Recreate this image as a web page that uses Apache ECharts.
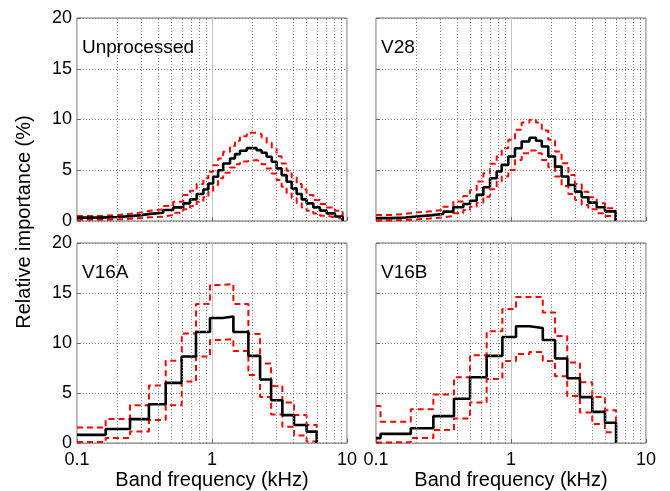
<!DOCTYPE html>
<html>
<head>
<meta charset="utf-8">
<script src="https://cdn.jsdelivr.net/npm/echarts@6/dist/echarts.min.js"></script>
<style>
html, body { margin: 0; padding: 0; background: #fff; }
#chart { width: 670px; height: 491px; }
</style>
</head>
<body>
<div id="chart"></div>
<script>
// band edges (kHz) and band importance (%)
var unprocEdges = [0.1, 0.15, 0.2, 0.25, 0.3, 0.347, 0.435, 0.516, 0.612, 0.687, 0.77, 0.863, 0.94, 1.02,
    1.11, 1.21, 1.36, 1.48, 1.61, 1.81, 2.14, 2.33, 2.54, 2.77, 3.01, 3.28, 3.57, 3.89, 4.24, 4.62, 5.02,
    5.63, 6.31, 7.07, 8.15, 9.29];
var unprocMean = [0.33, 0.4, 0.48, 0.58, 0.7, 0.82, 1.08, 1.34, 1.74, 2.13, 2.66, 3.1, 3.7, 4.36, 5.0,
    5.67, 6.16, 6.59, 6.92, 7.18, 6.98, 6.72, 6.33, 5.84, 5.18, 4.52, 3.87, 3.21, 2.66, 2.13, 1.74, 1.34,
    1.02, 0.75, 0.45];
var unprocUpper = [0.5, 0.6, 0.72, 0.85, 1.0, 1.15, 1.48, 1.9, 2.56, 2.98, 3.64, 4.2, 4.85, 5.5, 6.16,
    6.82, 7.38, 7.9, 8.36, 8.69, 8.56, 8.23, 7.7, 7.15, 6.39, 5.67, 4.95, 4.3, 3.64, 3.11, 2.56, 2.07,
    1.67, 1.34, 1.02];
var unprocLower = [0.12, 0.16, 0.22, 0.3, 0.36, 0.43, 0.59, 0.82, 1.15, 1.48, 1.9, 2.33, 2.89, 3.54, 4.2,
    4.75, 5.28, 5.6, 5.87, 6.0, 5.87, 5.6, 5.18, 4.69, 4.03, 3.38, 2.79, 2.23, 1.74, 1.34, 1.02, 0.75,
    0.52, 0.36, 0.23];

var v28Edges = [0.1, 0.13, 0.165, 0.2, 0.251, 0.315, 0.374, 0.443, 0.497, 0.557, 0.624, 0.699, 0.783,
    0.853, 0.955, 1.07, 1.2, 1.37, 1.53, 1.69, 1.89, 2.12, 2.37, 2.66, 2.98, 3.34, 3.74, 4.31, 4.97, 5.96];
var v28Mean = [0.28, 0.35, 0.45, 0.55, 0.69, 0.92, 1.35, 1.68, 2.0, 2.57, 3.32, 4.21, 4.87, 5.53, 6.35,
    7.17, 7.83, 8.2, 7.9, 7.34, 6.35, 5.36, 4.38, 3.55, 2.89, 2.34, 1.81, 1.35, 0.95];
var v28Upper = [0.6, 0.7, 0.85, 0.95, 1.09, 1.41, 1.91, 2.47, 3.06, 3.88, 4.7, 5.63, 6.35, 7.17, 8.0,
    8.98, 9.7, 9.97, 9.7, 8.91, 8.0, 6.84, 5.69, 4.54, 3.65, 2.89, 2.34, 1.74, 1.25];
var v28Lower = [0.05, 0.1, 0.15, 0.25, 0.36, 0.49, 0.76, 1.09, 1.41, 1.81, 2.4, 3.13, 3.88, 4.38, 5.03,
    6.02, 6.68, 6.94, 6.68, 6.02, 5.3, 4.38, 3.45, 2.66, 2.07, 1.58, 1.15, 0.76, 0.49];

var v16aEdges = [0.1, 0.163, 0.247, 0.341, 0.454, 0.597, 0.761, 0.966, 1.2, 1.44, 1.86, 2.27, 2.74, 3.32,
    4.05, 5.02, 5.97];
var v16aMean = [0.82, 1.41, 2.4, 3.88, 6.02, 8.65, 11.1, 12.5, 12.66, 11.1, 8.72, 6.35, 4.28, 2.8, 1.81, 1.15];
var v16aUpper = [1.55, 2.4, 3.78, 5.76, 8.22, 10.95, 13.9, 15.8, 15.9, 13.9, 10.9, 7.96, 5.7, 4.05, 2.8, 1.81];
var v16aLower = [0.1, 0.5, 1.15, 2.3, 3.78, 6.15, 8.65, 10.3, 10.4, 9.2, 6.8, 4.6, 2.86, 1.64, 0.76, 0.16];

var v16bEdges = [0.1, 0.108, 0.181, 0.266, 0.378, 0.497, 0.66, 0.863, 1.089, 1.37, 1.72, 2.12, 2.61, 3.24,
    4.0, 4.97, 6.0];
var v16bMean = [0.5, 0.92, 1.48, 2.7, 4.44, 6.58, 8.72, 10.6, 11.68, 11.5, 10.3, 8.45, 6.48, 4.6, 3.12, 2.04];
var v16bUpper = [3.72, 2.14, 3.39, 4.87, 6.58, 8.78, 11.18, 13.4, 14.6, 14.6, 13.06, 10.7, 8.06, 6.09, 4.6, 3.29];
var v16bLower = [0.05, 0.1, 0.5, 1.3, 2.47, 4.05, 6.4, 8.2, 8.9, 9.1, 8.2, 6.68, 4.7, 3.06, 1.9, 1.08];

var minorFreqs = [0.2, 0.3, 0.4, 0.5, 0.6, 0.7, 0.8, 0.9, 2, 3, 4, 5, 6, 7, 8, 9];

var font = '"Liberation Sans", Arial, Helvetica, sans-serif';

var panels = [
    { title: 'Unprocessed', edges: unprocEdges, mean: unprocMean, upper: unprocUpper, lower: unprocLower,
      left: 77, top: 18, yLabels: true, xLabels: false },
    { title: 'V28', edges: v28Edges, mean: v28Mean, upper: v28Upper, lower: v28Lower,
      left: 376, top: 18, yLabels: false, xLabels: false },
    { title: 'V16A', edges: v16aEdges, mean: v16aMean, upper: v16aUpper, lower: v16aLower,
      left: 77, top: 243, yLabels: true, xLabels: true },
    { title: 'V16B', edges: v16bEdges, mean: v16bMean, upper: v16bUpper, lower: v16bLower,
      left: 376, top: 243, yLabels: false, xLabels: true }
];

// step outline: each band value held from its lower to upper edge, dropping to 0 at the last edge
function stepData(edges, values) {
    var d = [];
    for (var i = 0; i < values.length; i++) {
        d.push([edges[i], values[i]]);
    }
    d.push([edges[values.length], values[values.length - 1]]);
    d.push([edges[values.length], 0]);
    return d;
}

var grids = [], xAxes = [], yAxes = [], series = [], graphics = [];

panels.forEach(function (p, i) {
    grids.push({
        left: p.left, top: p.top, width: 270, height: 203,
        show: true, borderColor: '#6a6a6a', borderWidth: 1, backgroundColor: '#fff'
    });
    xAxes.push({
        gridIndex: i, type: 'log', logBase: 10, min: 0.1, max: 10,
        name: p.xLabels ? 'Band frequency (kHz)' : '',
        nameLocation: 'middle', nameGap: 26,
        nameTextStyle: { fontSize: 20, fontFamily: font, color: '#000' },
        axisLine: { show: false },
        axisTick: { show: true, inside: true, length: 4, lineStyle: { color: '#6a6a6a' } },
        axisLabel: {
            show: p.xLabels, margin: 8, fontSize: 18, fontFamily: font, color: '#000',
            formatter: function (v) { return String(parseFloat(Number(v).toPrecision(2))); }
        },
        splitLine: { show: true, lineStyle: { color: '#c4c4c4', width: 1, type: 'solid' } }
    });
    yAxes.push({
        gridIndex: i, type: 'value', min: 0, max: 20, interval: 5,
        axisLine: { show: false },
        axisTick: { show: true, inside: true, length: 4, lineStyle: { color: '#6a6a6a' } },
        axisLabel: { show: p.yLabels, margin: 5, fontSize: 18, fontFamily: font, color: '#000' },
        splitLine: { show: true, lineStyle: { color: '#808080', width: 1, type: [1, 2] } }
    });

    // minor log grid lines
    series.push({
        type: 'line', xAxisIndex: i, yAxisIndex: i, z: 1, silent: true,
        data: [[0.1, 0]], symbol: 'none', lineStyle: { opacity: 0 },
        markLine: {
            silent: true, symbol: 'none', label: { show: false },
            lineStyle: { color: '#808080', width: 1, type: [1, 2] },
            data: minorFreqs.map(function (f) { return { xAxis: f }; })
        }
    });
    [p.upper, p.lower].forEach(function (vals) {
        series.push({
            type: 'line', xAxisIndex: i, yAxisIndex: i, z: 3, step: 'end',
            symbol: 'none', data: stepData(p.edges, vals),
            lineStyle: { color: '#ff0000', width: 2, type: [6, 4] }
        });
    });
    series.push({
        type: 'line', xAxisIndex: i, yAxisIndex: i, z: 4, step: 'end',
        symbol: 'none', data: stepData(p.edges, p.mean),
        lineStyle: { color: '#000', width: 2.6 }
    });

    graphics.push({
        type: 'text', left: p.left + 5, top: p.top + 20, z: 10,
        style: { text: p.title, fontSize: 19, fontFamily: font, fill: '#000' }
    });
});

graphics.push({
    type: 'text', x: 24, y: 222, rotation: Math.PI / 2, z: 10,
    style: {
        text: 'Relative importance (%)', fontSize: 20, fontFamily: font, fill: '#000',
        align: 'center', verticalAlign: 'middle'
    }
});

var dom = document.getElementById('chart');
var myChart = echarts.init(dom, null, { renderer: 'canvas' });
var option = {
    animation: false,
    backgroundColor: '#fff',
    grid: grids,
    xAxis: xAxes,
    yAxis: yAxes,
    series: series,
    graphic: graphics
};
myChart.setOption(option);
</script>
</body>
</html>
